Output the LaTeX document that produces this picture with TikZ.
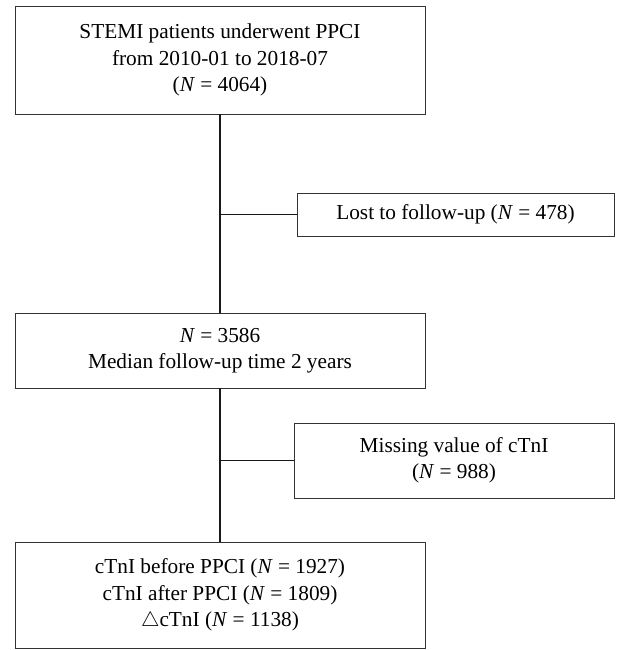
\documentclass[tikz,border=0pt]{standalone}
\usepackage{fontspec}
\setmainfont{Liberation Serif}
\usetikzlibrary{positioning,calc}

\begin{document}
\begin{tikzpicture}[
  x=1pt, y=-1pt,
  font=\fontsize{21.3}{26.5}\selectfont,
  mainbox/.style={draw=black!80, line width=0.9pt, align=center, inner sep=0pt,
                  minimum width=410pt},
  sidebox/.style={draw=black!80, line width=0.9pt, align=center, inner sep=0pt},
  flow/.style={draw=black!90, line width=1.6pt}
]
\useasboundingbox (0,0) rectangle (616,650);

% ---------- main column ----------
\node[mainbox, minimum height=108pt] (enrolled) at (220,60)
  {STEMI patients underwent PPCI\\from 2010-01 to 2018-07\\(\textit{N} = 4064)};
\node[mainbox, minimum height=75pt] (followed) at (220,350.5)
  {\textit{N} = 3586\\Median follow-up time 2 years};
\node[mainbox, minimum height=106pt] (analysed) at (220,595)
  {cTnI before PPCI (\textit{N} = 1927)\\cTnI after PPCI (\textit{N} = 1809)\\$\triangle$cTnI (\textit{N} = 1138)};

% ---------- exclusions ----------
\node[sidebox, minimum width=317pt, minimum height=43pt] (lost) at (455.5,214.5)
  {Lost to follow-up (\textit{N} = 478)};
\node[sidebox, minimum width=320pt, minimum height=75pt] (missing) at (454,460.5)
  {Missing value of cTnI\\(\textit{N} = 988)};

% ---------- connectors ----------
\draw[flow] (enrolled.south) -- (followed.north);
\draw[flow] (followed.south) -- (analysed.north);
\draw[flow] (enrolled.south |- lost.west) -- (lost.west);
\draw[flow] (followed.south |- missing.west) -- (missing.west);
\end{tikzpicture}
\end{document}
